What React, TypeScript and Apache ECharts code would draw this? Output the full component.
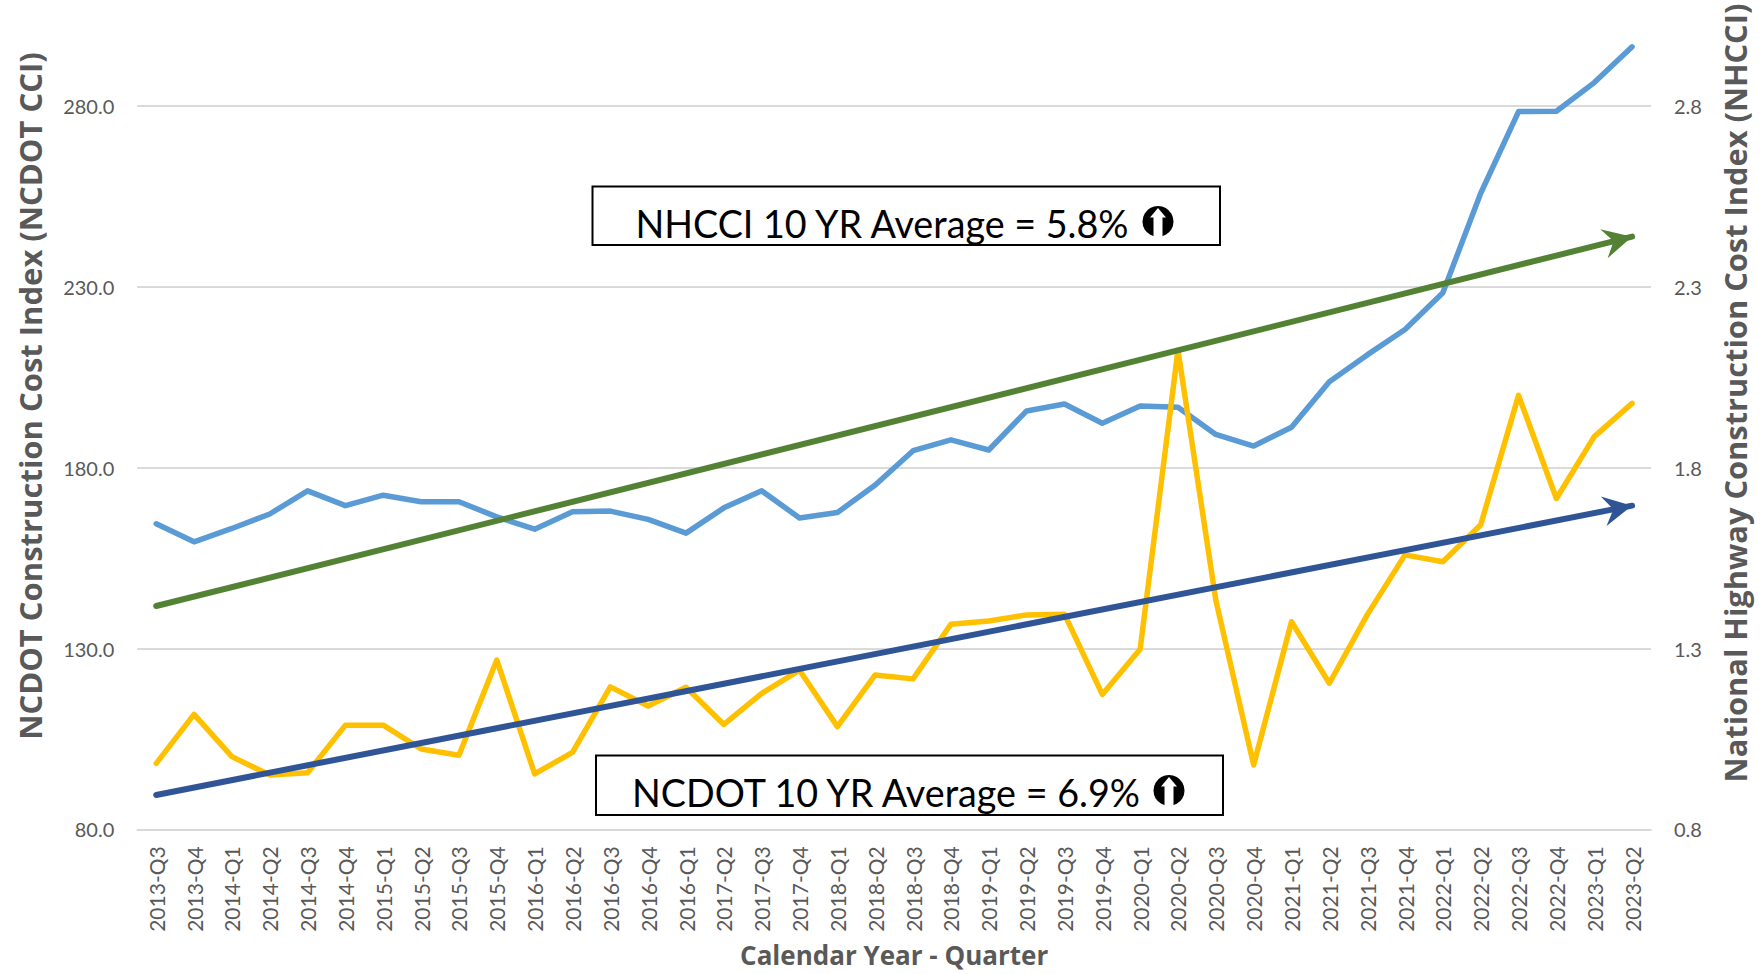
import React, { useEffect, useRef } from "react";
import * as echarts from "echarts";

const categories = [
  "2013-Q3","2013-Q4","2014-Q1","2014-Q2","2014-Q3","2014-Q4","2015-Q1","2015-Q2","2015-Q3","2015-Q4",
  "2016-Q1","2016-Q2","2016-Q3","2016-Q4","2016-Q1","2017-Q2","2017-Q3","2017-Q4","2018-Q1","2018-Q2",
  "2018-Q3","2018-Q4","2019-Q1","2019-Q2","2019-Q3","2019-Q4","2020-Q1","2020-Q2","2020-Q3","2020-Q4",
  "2021-Q1","2021-Q2","2021-Q3","2021-Q4","2022-Q1","2022-Q2","2022-Q3","2022-Q4","2023-Q1","2023-Q2",
];
const ncdotCci = [
  98.25,111.8,100.1,95,95.65,108.8,108.8,102.2,100.5,126.8,
  95.3,101.3,119.4,114.1,119.3,109,117.6,124,108.4,122.7,
  121.6,136.7,137.6,139.3,139.5,117.3,129.8,212.5,143.4,97.8,
  137.4,120.4,139.3,155.9,154,164.2,200,171.5,188.6,197.8,
];
const nhcci = [
  1.645,1.595,1.632,1.672,1.736,1.695,1.724,1.706,1.706,1.664,
  1.63,1.678,1.68,1.657,1.619,1.689,1.736,1.661,1.676,1.752,
  1.847,1.877,1.849,1.957,1.976,1.923,1.971,1.967,1.892,1.86,
  1.912,2.038,2.112,2.182,2.284,2.559,2.785,2.786,2.865,2.964,
];
const ncdotTrend = [89.5, 169.5];
const nhcciTrend = [1.4175, 2.439];
const leftTicks = [80, 130, 180, 230, 280];
const rightTicks = [0.8, 1.3, 1.8, 2.3, 2.8];
const leftTitle = "NCDOT Construction Cost Index (NCDOT CCI)";
const rightTitle = "National Highway Construction Cost Index (NHCCI)";
const xTitle = "Calendar Year - Quarter";
const boxTop = "NHCCI 10 YR Average = 5.8%";
const boxBottom = "NCDOT 10 YR Average = 6.9%";

const ARROW =
  "path://M-15,29 L0,0 L15,29 L0,19 Z M-30,-30 Z M30,30 Z";
const FONT = "Lato";
const GREY = "#595959";

function trendLine(values: number[], color: string) {
  return {
    silent: true,
    symbol: ["none", ARROW],
    symbolSize: 60,
    precision: 4,
    label: { show: false },
    lineStyle: { color, width: 6, type: "solid", cap: "round", opacity: 1 },
    itemStyle: { color },
    emphasis: { disabled: true },
    data: [
      [
        { coord: [categories[0], values[0]] },
        { coord: [categories[categories.length - 1], values[1]] },
      ],
    ],
  };
}

function statBox(x: number, y: number, w: number, h: number, label: string, cx: number, iconX: number) {
  const cy = y + 34.8;
  return [
    { type: "rect", shape: { x, y, width: w, height: h }, style: { fill: "#fff", stroke: "#000", lineWidth: 2 }, z: 20 },
    {
      type: "text", x: cx, y: y + 37, z: 21,
      style: { text: label, fill: "#000", font: `37.7px ${FONT}`, textAlign: "center", textVerticalAlign: "middle" },
    },
    { type: "circle", shape: { cx: iconX, cy, r: 15.5 }, style: { fill: "#000" }, z: 21 },
    {
      type: "polygon", z: 22,
      shape: {
        points: [
          [iconX, cy - 13.5], [iconX + 8, cy - 4], [iconX + 4.5, cy - 4], [iconX + 4.5, cy + 15.6],
          [iconX - 4.5, cy + 15.6], [iconX - 4.5, cy - 4], [iconX - 8, cy - 4],
        ],
      },
      style: { fill: "#fff" },
    },
  ];
}

export default function App() {
  const ref = useRef<HTMLDivElement>(null);
  useEffect(() => {
    const chart = echarts.init(ref.current!, null, { renderer: "svg" });
    const valueAxis = (ticks: number[], min: number, max: number) => ({
      type: "value",
      min,
      max,
      axisLine: { show: false },
      axisTick: { show: false, customValues: ticks },
      axisLabel: {
        customValues: ticks,
        formatter: (v: number) => v.toFixed(1),
        color: GREY,
        fontFamily: FONT,
        fontSize: 20,
        margin: 23,
      },
      splitLine: { show: true, lineStyle: { color: "#D9D9D9", width: 1.75 } },
    });
    chart.setOption({
      animation: false,
      backgroundColor: "#fff",
      grid: { left: 137.3, right: 112, top: 33.8, bottom: 144.7, outerBoundsMode: "none" },
      xAxis: {
        type: "category",
        data: categories,
        boundaryGap: true,
        axisTick: { show: false },
        axisLine: { show: true, lineStyle: { color: "#D9D9D9", width: 1.75 } },
        axisLabel: { rotate: 90, interval: 0, color: GREY, fontFamily: FONT, fontSize: 21, margin: 17 },
        name: xTitle,
        nameLocation: "middle",
        nameGap: 113,
        nameTextStyle: { color: GREY, fontFamily: "Open Sans", fontWeight: "bold", fontSize: 26, lineHeight: 26 },
      },
      yAxis: [valueAxis(leftTicks, 80, 300), { ...valueAxis(rightTicks, 0.8, 3.0), position: "right" }],
      series: [
        {
          name: "NHCCI", type: "line", yAxisIndex: 1, data: nhcci, showSymbol: false, symbol: "none",
          lineStyle: { color: "#5B9BD5", width: 5.5, cap: "round", join: "round" },
          markLine: trendLine(nhcciTrend, "#548235"),
        },
        {
          name: "NCDOT CCI", type: "line", yAxisIndex: 0, data: ncdotCci, showSymbol: false, symbol: "none",
          lineStyle: { color: "#FFC000", width: 5.5, cap: "round", join: "round" },
          markLine: trendLine(ncdotTrend, "#2F5597"),
        },
      ],
      graphic: [
        {
          type: "text", x: 29.5, y: 396, rotation: Math.PI / 2, z: 10,
          style: { text: leftTitle, fill: GREY, font: `bold 31px Open Sans`, textAlign: "center", textVerticalAlign: "middle" },
        },
        {
          type: "text", x: 1735, y: 393, rotation: Math.PI / 2, z: 10,
          style: { text: rightTitle, fill: GREY, font: `bold 30.8px Open Sans`, textAlign: "center", textVerticalAlign: "middle" },
        },
        ...statBox(592.5, 186.6, 627.5, 58.5, boxTop, 882, 1158),
        ...statBox(596, 755.6, 627, 59.4, boxBottom, 886, 1169),
      ],
    });
    return () => chart.dispose();
  }, []);
  return <div ref={ref} style={{ position: "fixed", left: 0, top: 0, width: 1763, height: 974 }} />;
}
